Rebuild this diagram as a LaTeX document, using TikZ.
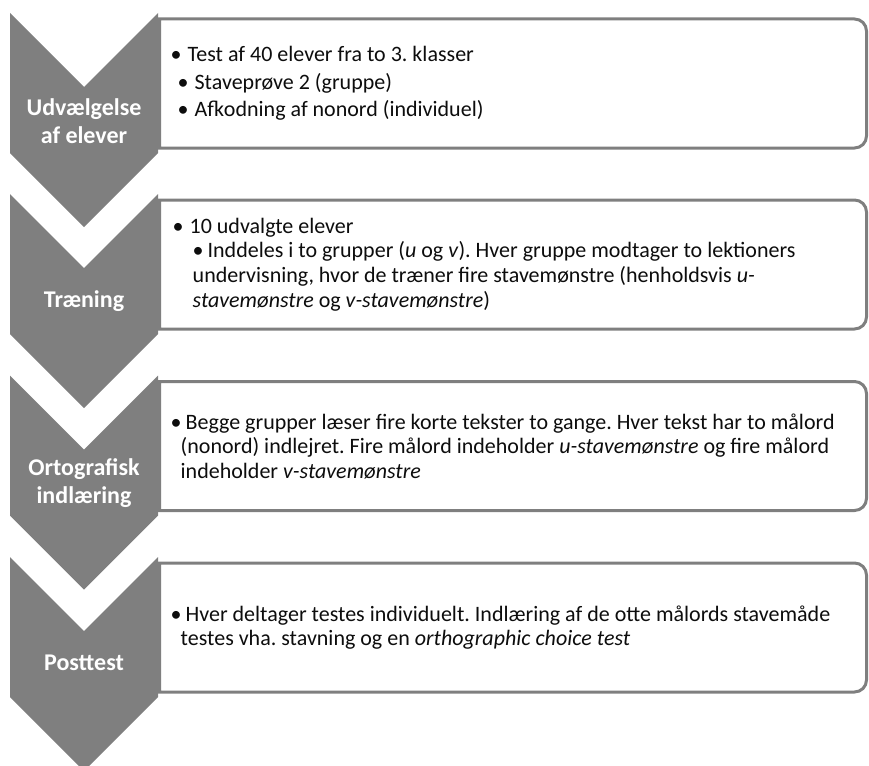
\documentclass[tikz,border=0pt]{standalone}
\usepackage{fontspec}
\setmainfont{Carlito}
\usetikzlibrary{positioning}
\definecolor{stepgray}{HTML}{7F7F7F}
\definecolor{bodyblack}{HTML}{0D0D0D}
\frenchspacing

\begin{document}
\begin{tikzpicture}[
  x=1pt, y=-1pt,
  chevron/.style={
    fill=stepgray,
    draw=none
  },
  steplabel/.style={
    text=white,
    font=\fontsize{24}{27.5}\selectfont\bfseries,
    align=center,
    inner sep=0pt
  },
  itemarea/.style={
    draw=none,
    minimum width=707pt,
    minimum height=129pt,
    inner sep=0pt,
    outer sep=0pt
  },
  itemline/.style={
    draw=stepgray,
    fill=white,
    line width=3pt
  },
  itemtext/.style={
    anchor=west,
    align=left,
    inner sep=0pt,
    text=bodyblack,
    font=\fontsize{22}{24.5}\selectfont
  }
]
  \useasboundingbox (0,0) rectangle (869,765);

  % --- Text boxes (square on the left, rounded on the right) ---
  \node[itemarea] (b1) at (513,83.5) {};
  \node[itemarea] (b2) at (513,264.5) {};
  \node[itemarea] (b3) at (513,446) {};
  \node[itemarea] (b4) at (513,627.5) {};

  \draw[itemline] (b1.north) -- (b1.north west) -- (b1.south west) -- (b1.south)
    [rounded corners=12pt] -- (b1.south east) -- (b1.north east) -- cycle;
  \draw[itemline] (b2.north) -- (b2.north west) -- (b2.south west) -- (b2.south)
    [rounded corners=12pt] -- (b2.south east) -- (b2.north east) -- cycle;
  \draw[itemline] (b3.north) -- (b3.north west) -- (b3.south west) -- (b3.south)
    [rounded corners=12pt] -- (b3.south east) -- (b3.north east) -- cycle;
  \draw[itemline] (b4.north) -- (b4.north west) -- (b4.south west) -- (b4.south)
    [rounded corners=12pt] -- (b4.south east) -- (b4.north east) -- cycle;

  % --- Chevrons ---
  \fill[chevron] (10,13) -- (84,87) -- (158,13) -- (158,153) -- (84,227) -- (10,153) -- cycle;
  \fill[chevron] (10,194) -- (84,268) -- (158,194) -- (158,334) -- (84,408) -- (10,334) -- cycle;
  \fill[chevron] (10,375.5) -- (84,449.5) -- (158,375.5) -- (158,515.5) -- (84,589.5) -- (10,515.5) -- cycle;
  \fill[chevron] (10,557) -- (84,631) -- (158,557) -- (158,697) -- (84,771) -- (10,697) -- cycle;

  \node[steplabel] (s1) at (84,121) {Udvælgelse\\af elever};
  \node[steplabel] (s2) at (84,301) {Træning};
  \node[steplabel] (s3) at (84,483) {Ortografisk\\indlæring};
  \node[steplabel] (s4) at (84,663) {Posttest};

  % --- Box contents ---
  \node[itemtext, font=\fontsize{22}{27.5}\selectfont, right=11pt of b1.west] (t1) {
    \textbullet\hspace{6pt}Test af 40 elever fra to 3. klasser\\
    \hspace*{7pt}\textbullet\hspace{6pt}Staveprøve 2 (gruppe)\\
    \hspace*{7pt}\textbullet\hspace{6pt}Afkodning af nonord (individuel)
  };

  \node[itemtext, right=13pt of b2.west] (t2) {
    \textbullet\hspace{6pt}10 udvalgte elever\\
    \hspace*{20pt}\textbullet\hspace{4pt}Inddeles i to grupper (\textit{u} og \textit{v}). Hver gruppe modtager to lektioners\\
    \hspace*{20pt}undervisning, hvor de træner fire stavemønstre (henholdsvis \textit{u-}\\
    \hspace*{20pt}\textit{stavemønstre} og \textit{v-stavemønstre})
  };

  \node[itemtext, right=11pt of b3.west] (t3) {
    \textbullet\hspace{4pt}Begge grupper læser fire korte tekster to gange. Hver tekst har to målord\\
    \hspace*{10pt}(nonord) indlejret. Fire målord indeholder \textit{u-stavemønstre} og fire målord\\
    \hspace*{10pt}indeholder \textit{v-stavemønstre}
  };

  \node[itemtext, right=11pt of b4.west] (t4) {
    \textbullet\hspace{4pt}Hver deltager testes individuelt. Indlæring af de otte målords stavemåde\\
    \hspace*{10pt}testes vha. stavning og en \textit{orthographic choice test}
  };

\end{tikzpicture}
\end{document}
